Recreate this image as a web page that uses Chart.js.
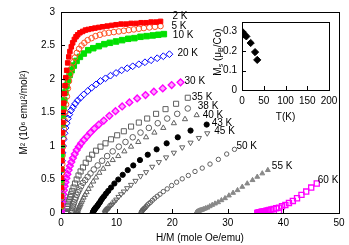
<!DOCTYPE html>
<html>
<head>
<meta charset="utf-8">
<script src="https://cdn.jsdelivr.net/npm/chart.js@4/dist/chart.umd.min.js"></script>
<style>
  html, body { margin: 0; padding: 0; background: #fff; }
  #wrap { position: relative; width: 349px; height: 245px; }
  #main { position: absolute; left: 0; top: 0; }
  #inset { position: absolute; left: 200px; top: 0; }
</style>
</head>
<body>
<div id="wrap">
  <canvas id="main" width="349" height="245"></canvas>
  <canvas id="inset" width="149" height="125"></canvas>
</div>
<script>
// Arrott plot: x = H/M (mole Oe/emu), y = M^2 (10^6 emu^2/mol^2)
const x2K = [0.02,0.04,0.06,0.09,0.12,0.15,0.19,0.23,0.28,0.34,0.41,0.5,0.6,0.72,0.86,1.02,1.2,1.4,1.6,1.85,2.1,2.4,2.7,3.0,3.4,3.9,4.4,4.9,5.5,6.1,6.8,7.5,8.3,9.1,9.9,10.8,11.7,12.6,13.5,14.4,15.3,16.2,17.1,17.9]
const y2K = [0.12,0.25,0.38,0.52,0.65,0.78,0.92,1.05,1.2,1.35,1.5,1.64,1.78,1.9,2.02,2.13,2.24,2.33,2.41,2.48,2.54,2.59,2.63,2.66,2.69,2.71,2.73,2.74,2.75,2.76,2.77,2.78,2.79,2.8,2.81,2.82,2.82,2.83,2.83,2.84,2.84,2.85,2.85,2.86]

const x5K = [0.03,0.06,0.1,0.14,0.18,0.23,0.29,0.36,0.44,0.53,0.64,0.76,0.9,1.06,1.24,1.44,1.66,1.9,2.2,2.5,2.85,3.25,3.7,4.2,4.8,5.5,6.2,7.0,7.8,8.6,9.5,10.4,11.3,12.2,13.1,14,14.9,15.9,16.9,17.9]
const y5K = [0.1,0.22,0.35,0.48,0.6,0.73,0.86,0.99,1.12,1.25,1.38,1.5,1.62,1.74,1.86,1.97,2.07,2.16,2.25,2.32,2.39,2.45,2.5,2.54,2.58,2.61,2.64,2.66,2.68,2.69,2.7,2.71,2.72,2.73,2.74,2.75,2.76,2.77,2.78,2.79]

const x10K = [0.01,0.02,0.04,0.06,0.09,0.13,0.18,0.25,0.34,0.45,0.6,0.8,1.0,1.25,1.55,1.9,2.3,2.8,3.4,4.1,4.9,5.8,6.8,7.8,8.8,9.9,11,12.1,13.2,14.3,15.4,16.5,17.5,18.5]
const y10K = [0.1,0.25,0.45,0.65,0.85,1.02,1.18,1.32,1.45,1.56,1.68,1.8,1.9,1.98,2.06,2.13,2.2,2.27,2.33,2.38,2.43,2.46,2.49,2.52,2.54,2.56,2.58,2.6,2.61,2.63,2.64,2.65,2.66,2.67]

const x20K = [0.02,0.05,0.09,0.14,0.2,0.28,0.38,0.5,0.65,0.82,1.02,1.25,1.5,1.8,2.15,2.55,3,3.5,4.1,4.8,5.5,6.3,7.1,8,8.9,9.9,10.9,11.9,12.9,14,15.1,16.2,17.3,18.4,19.5]
const y20K = [0.2,0.35,0.5,0.64,0.78,0.9,1.0,1.1,1.19,1.27,1.34,1.41,1.47,1.53,1.58,1.63,1.68,1.72,1.77,1.82,1.87,1.92,1.97,2.01,2.05,2.09,2.13,2.16,2.19,2.22,2.25,2.28,2.31,2.34,2.37]

const x30K = [0.03,0.08,0.14,0.21,0.3,0.4,0.52,0.65,0.8,0.97,1.16,1.37,1.6,1.86,2.15,2.47,2.82,3.2,3.62,4.1,4.65,5.3,6.0,6.8,7.7,8.7,9.8,11,12.3,13.7,15.2,16.7,18.3,19.9,21.5]
const y30K = [0.02,0.06,0.11,0.16,0.22,0.28,0.34,0.4,0.46,0.52,0.58,0.64,0.7,0.76,0.82,0.88,0.94,0.99,1.04,1.09,1.14,1.2,1.26,1.32,1.38,1.45,1.52,1.59,1.65,1.71,1.76,1.81,1.86,1.91,1.95]

const x35K = [0.9,0.95,1.0,1.07,1.15,1.25,1.37,1.5,1.65,1.83,2.03,2.26,2.52,2.82,3.15,3.52,3.95,4.45,5.0,5.6,6.3,7.1,8.0,9.0,10.1,11.3,12.6,14,15.5,17.1,18.8,20.7,22.8]
const y35K = [0.0,0.01,0.02,0.06,0.1,0.14,0.17,0.2,0.24,0.28,0.33,0.38,0.44,0.5,0.56,0.62,0.68,0.75,0.81,0.87,0.93,0.99,1.04,1.1,1.16,1.22,1.29,1.35,1.41,1.48,1.55,1.63,1.72]

const x38K = [1.9,1.95,2.0,2.07,2.15,2.25,2.37,2.5,2.65,2.83,3.05,3.3,3.6,3.95,4.35,4.8,5.3,5.9,6.6,7.4,8.3,9.3,10.4,11.6,12.9,14.3,15.8,17.4,19.1,20.9,22.8]
const y38K = [0.0,0.02,0.04,0.07,0.1,0.13,0.16,0.2,0.23,0.27,0.31,0.35,0.4,0.45,0.49,0.54,0.59,0.65,0.71,0.78,0.85,0.92,0.99,1.06,1.13,1.2,1.27,1.34,1.41,1.48,1.56]

const x40K = [2.9,2.95,3.0,3.07,3.15,3.25,3.37,3.5,3.65,3.83,4.05,4.3,4.6,4.95,5.35,5.8,6.3,6.9,7.6,8.4,9.3,10.3,11.4,12.6,13.9,15.3,16.8,18.4,20.3,22.3,24.4]
const y40K = [0.0,0.01,0.03,0.05,0.07,0.09,0.11,0.13,0.16,0.19,0.23,0.27,0.31,0.36,0.41,0.47,0.53,0.6,0.66,0.73,0.79,0.85,0.92,0.99,1.06,1.13,1.2,1.27,1.34,1.4,1.46]

const x43K = [5.7,5.75,5.8,5.86,5.93,6.0,6.08,6.17,6.27,6.38,6.5,6.65,6.8,7.0,7.2,7.45,7.75,8.1,8.5,9.0,9.6,10.3,11.1,12.0,13.0,14.2,15.6,17.2,19,21,23.3,26.2]
const y43K = [0.0,0.01,0.02,0.03,0.04,0.05,0.06,0.07,0.08,0.09,0.1,0.12,0.14,0.16,0.19,0.22,0.25,0.29,0.33,0.38,0.44,0.5,0.57,0.64,0.71,0.79,0.87,0.95,1.04,1.13,1.23,1.32]

const x45K = [7.9,7.95,8.0,8.07,8.15,8.25,8.37,8.5,8.65,8.83,9.05,9.3,9.6,9.95,10.35,10.8,11.3,11.9,12.6,13.4,14.3,15.3,16.4,17.6,18.9,20.3,21.8,23.3,24.8,26.3]
const y45K = [0.0,0.01,0.02,0.03,0.04,0.05,0.06,0.07,0.08,0.1,0.12,0.14,0.17,0.2,0.24,0.28,0.32,0.37,0.42,0.48,0.55,0.61,0.69,0.76,0.83,0.9,0.98,1.05,1.12,1.19]

const x50K = [14.4,14.45,14.5,14.57,14.65,14.75,14.87,15.0,15.15,15.33,15.55,15.8,16.1,16.45,16.85,17.3,17.8,18.4,19.1,19.9,20.8,21.8,22.9,24.1,25.4,26.8,28.3,29.8,31.2]
const y50K = [0.0,0.01,0.02,0.03,0.04,0.05,0.06,0.07,0.08,0.1,0.12,0.14,0.16,0.19,0.22,0.25,0.28,0.32,0.36,0.41,0.46,0.51,0.56,0.62,0.67,0.73,0.8,0.88,0.95]

const x55K = [24.3,24.35,24.4,24.47,24.55,24.65,24.77,24.9,25.05,25.23,25.45,25.7,26.0,26.35,26.75,27.2,27.7,28.25,28.85,29.5,30.2,30.95,31.75,32.6,33.5,34.45,35.3,36.2,37.2]
const y55K = [0.0,0.005,0.01,0.015,0.02,0.025,0.03,0.035,0.04,0.045,0.05,0.06,0.07,0.08,0.1,0.12,0.14,0.16,0.19,0.22,0.26,0.3,0.34,0.39,0.44,0.49,0.54,0.59,0.64]

const x60K = [35.3,35.4,35.5,35.6,35.7,35.8,35.9,36.0,36.15,36.3,36.5,36.7,36.95,37.2,37.5,37.85,38.25,38.7,39.2,39.75,40.35,41.0,41.7,42.45,43.25,44.1,45.0,46.0,39.2]
const y60K = [0.0,0.002,0.004,0.006,0.008,0.01,0.012,0.015,0.018,0.02,0.024,0.028,0.033,0.038,0.045,0.052,0.06,0.07,0.08,0.1,0.12,0.15,0.18,0.22,0.27,0.32,0.38,0.44,0.0]

const temps = ['2 K','5 K','10 K','20 K','30 K','35 K','38 K','40 K','43 K','45 K','50 K','55 K','60 K']
const xs = [x2K,x5K,x10K,x20K,x30K,x35K,x38K,x40K,x43K,x45K,x50K,x55K,x60K]
const ys = [y2K,y5K,y10K,y20K,y30K,y35K,y38K,y40K,y43K,y45K,y50K,y55K,y60K]

// inset: saturation moment vs temperature
const insetT = [2,5,10,20,30,35]
const insetMs = [0.297,0.285,0.276,0.242,0.195,0.155]

const mainXTicks = [0,10,20,30,40,50]
const mainYTicks = [0,0.5,1,1.5,2,2.5,3]
const insetXTicks = [0,50,100,150,200]
const insetYTicks = [0,0.1,0.2,0.3]

const FONT = "'Liberation Sans', Arial, sans-serif"
const NONE = 'rgba(0,0,0,0)'

const styles = [
  { pointStyle: 'rect',     radius: 3.2, fill: '#ff0000', line: '#ff0000', bw: 1 },
  { pointStyle: 'circle',   radius: 2.8, fill: NONE,      line: '#ff5020', bw: 1 },
  { pointStyle: 'rect',     radius: 3.9, fill: '#00e000', line: '#00e000', bw: 1 },
  { pointStyle: 'rectRot',  radius: 3.4, fill: NONE,      line: '#0000ff', bw: 1 },
  { pointStyle: 'rectRot',  radius: 3.4, fill: 'rgba(255,0,255,0.35)', line: '#ff00ff', bw: 1.4 },
  { pointStyle: 'rect',     radius: 3.6, fill: NONE,      line: '#606060', bw: 1 },
  { pointStyle: 'circle',   radius: 2.8, fill: NONE,      line: '#606060', bw: 1 },
  { pointStyle: 'triangle', radius: 3.0, fill: NONE,      line: '#606060', bw: 1 },
  { pointStyle: 'circle',   radius: 2.6, fill: '#000000', line: '#000000', bw: 1 },
  { pointStyle: 'triangle', radius: 3.0, fill: NONE,      line: '#606060', bw: 1, rotation: 180 },
  { pointStyle: 'circle',   radius: 2.2, fill: NONE,      line: '#606060', bw: 1 },
  { pointStyle: 'triangle', radius: 2.8, fill: '#888888', line: '#888888', bw: 1 },
  { pointStyle: 'rect',     radius: 3.6, fill: NONE,      line: '#ff00ff', bw: 1.3 },
]
// where each curve label sits relative to the curve's last point (px)
const labelNudge = [[12,-5],[11,0],[9,1],[8,-1],[4,-1],[4,-1],[10,-2],[6,0],[5,-1],[7,-2],[2,-3],[4,-4],[1,-3]]

const datasets = temps.map((t, i) => ({
  label: t,
  data: xs[i].map((x, j) => ({ x, y: ys[i][j] })),
  showLine: false,
  pointStyle: styles[i].pointStyle,
  pointRadius: styles[i].radius,
  pointRotation: styles[i].rotation || 0,
  pointBackgroundColor: styles[i].fill,
  pointBorderColor: styles[i].line,
  pointBorderWidth: styles[i].bw,
  nudge: labelNudge[i],
}))

const innerTicks = {
  id: 'innerTicks',
  afterDraw(chart, args, opts) {
    const { ctx, chartArea: a, scales } = chart
    ctx.save()
    ctx.strokeStyle = '#000'
    ctx.lineWidth = 1
    ctx.beginPath()
    scales.x.ticks.forEach(t => {
      const px = Math.round(scales.x.getPixelForValue(t.value)) + 0.5
      ctx.moveTo(px, a.bottom)
      ctx.lineTo(px, a.bottom - opts.len)
    })
    scales.y.ticks.forEach(t => {
      const py = Math.round(scales.y.getPixelForValue(t.value)) + 0.5
      ctx.moveTo(a.left, py)
      ctx.lineTo(a.left + opts.len, py)
    })
    ctx.stroke()
    ctx.restore()
  }
}

const curveLabels = {
  id: 'curveLabels',
  afterDatasetsDraw(chart) {
    const { ctx } = chart
    ctx.save()
    ctx.font = '10px ' + FONT
    ctx.fillStyle = '#000'
    ctx.textBaseline = 'middle'
    chart.data.datasets.forEach((ds, i) => {
      const pts = chart.getDatasetMeta(i).data
      let last = pts[0]
      pts.forEach(p => { if (p.x > last.x) last = p })
      ctx.fillText(ds.label, last.x + ds.nudge[0], last.y + ds.nudge[1])
    })
    ctx.restore()
  }
}

const tickFont = { family: FONT, size: 10 }
const fmt = v => String(+v.toFixed(2))

new Chart(document.getElementById('main'), {
  type: 'scatter',
  data: { datasets },
  options: {
    responsive: false,
    animation: false,
    events: [],
    layout: { padding: { top: 11, right: 10, left: 0, bottom: 0 } },
    plugins: { legend: { display: false }, tooltip: { enabled: false }, innerTicks: { len: 4 } },
    scales: {
      x: {
        type: 'linear', position: 'bottom', min: 0, max: 50,
        afterBuildTicks: s => { s.ticks = mainXTicks.map(value => ({ value })) },
        ticks: { color: '#000', font: tickFont, padding: 4, callback: fmt, maxRotation: 0 },
        grid: { display: false, drawTicks: false },
        border: { display: true, color: '#000', width: 1 },
        title: { display: true, text: 'H/M (mole Oe/emu)', color: '#000', font: { family: FONT, size: 10 }, padding: { top: 0, bottom: 1 } },
        afterFit: s => { s.height = 32 },
      },
      y: {
        type: 'linear', position: 'left', min: 0, max: 3,
        afterBuildTicks: s => { s.ticks = mainYTicks.map(value => ({ value })) },
        ticks: { color: '#000', font: tickFont, padding: 6, callback: fmt },
        grid: { display: false, drawTicks: false },
        border: { display: true, color: '#000', width: 1 },
        title: { display: true, text: 'M² (10⁶ emu²/mol²)', color: '#000', font: { family: FONT, size: 10 }, padding: { top: 18, bottom: 0 } },
        afterFit: s => { s.width = 61 },
      },
      x2: {
        type: 'linear', position: 'top', min: 0, max: 50,
        ticks: { display: false }, grid: { display: false, drawTicks: false },
        border: { display: true, color: '#000', width: 1 },
        afterFit: s => { s.height = 0 },
      },
      y2: {
        type: 'linear', position: 'right', min: 0, max: 3,
        ticks: { display: false }, grid: { display: false, drawTicks: false },
        border: { display: true, color: '#000', width: 1 },
        afterFit: s => { s.width = 0 },
      },
    },
  },
  plugins: [innerTicks, curveLabels],
})

// rotated inset y title with subscripts
const insetTitle = {
  id: 'insetTitle',
  afterDraw(chart) {
    const { ctx, chartArea: a } = chart
    const parts = [['M', 10, 0], ['s', 7, 3], [' (μ', 10, 0], ['B', 7, 3], ['/Co)', 10, 0]]
    ctx.save()
    ctx.fillStyle = '#000'
    ctx.textBaseline = 'middle'
    let total = 0
    parts.forEach(p => { ctx.font = p[1] + 'px ' + FONT; total += ctx.measureText(p[0]).width })
    ctx.translate(a.left - 24, (a.top + a.bottom) / 2 - 4)
    ctx.rotate(-Math.PI / 2)
    let x = -total / 2
    parts.forEach(p => {
      ctx.font = p[1] + 'px ' + FONT
      ctx.fillText(p[0], x, p[2])
      x += ctx.measureText(p[0]).width
    })
    ctx.restore()
  }
}

new Chart(document.getElementById('inset'), {
  type: 'scatter',
  data: {
    datasets: [{
      data: insetT.map((t, i) => ({ x: t, y: insetMs[i] })),
      showLine: false,
      pointStyle: 'rectRot',
      pointRadius: 3.6,
      pointBackgroundColor: '#000',
      pointBorderColor: '#000',
      pointBorderWidth: 1,
    }]
  },
  options: {
    responsive: false,
    animation: false,
    events: [],
    layout: { padding: { top: 22, right: 20, left: 0, bottom: 0 } },
    plugins: { legend: { display: false }, tooltip: { enabled: false }, innerTicks: { len: 4 } },
    scales: {
      x: {
        type: 'linear', position: 'bottom', min: 0, max: 200,
        afterBuildTicks: s => { s.ticks = insetXTicks.map(value => ({ value })) },
        ticks: { color: '#000', font: tickFont, padding: 5, callback: fmt, maxRotation: 0 },
        grid: { display: false, drawTicks: false },
        border: { display: true, color: '#000', width: 1 },
        title: { display: true, text: 'T(K)', color: '#000', font: { family: FONT, size: 10 }, padding: { top: 0, bottom: 2 } },
        afterFit: s => { s.height = 35 },
      },
      y: {
        type: 'linear', position: 'left', min: 0, max: 0.35,
        afterBuildTicks: s => { s.ticks = insetYTicks.map(value => ({ value })) },
        ticks: { color: '#000', font: tickFont, padding: 5, callback: fmt },
        grid: { display: false, drawTicks: false },
        border: { display: true, color: '#000', width: 1 },
        afterFit: s => { s.width = 42 },
      },
      x2: {
        type: 'linear', position: 'top', min: 0, max: 200,
        ticks: { display: false }, grid: { display: false, drawTicks: false },
        border: { display: true, color: '#000', width: 1 },
        afterFit: s => { s.height = 0 },
      },
      y2: {
        type: 'linear', position: 'right', min: 0, max: 0.35,
        ticks: { display: false }, grid: { display: false, drawTicks: false },
        border: { display: true, color: '#000', width: 1 },
        afterFit: s => { s.width = 0 },
      },
    },
  },
  plugins: [innerTicks, insetTitle],
})
</script>
</body>
</html>
